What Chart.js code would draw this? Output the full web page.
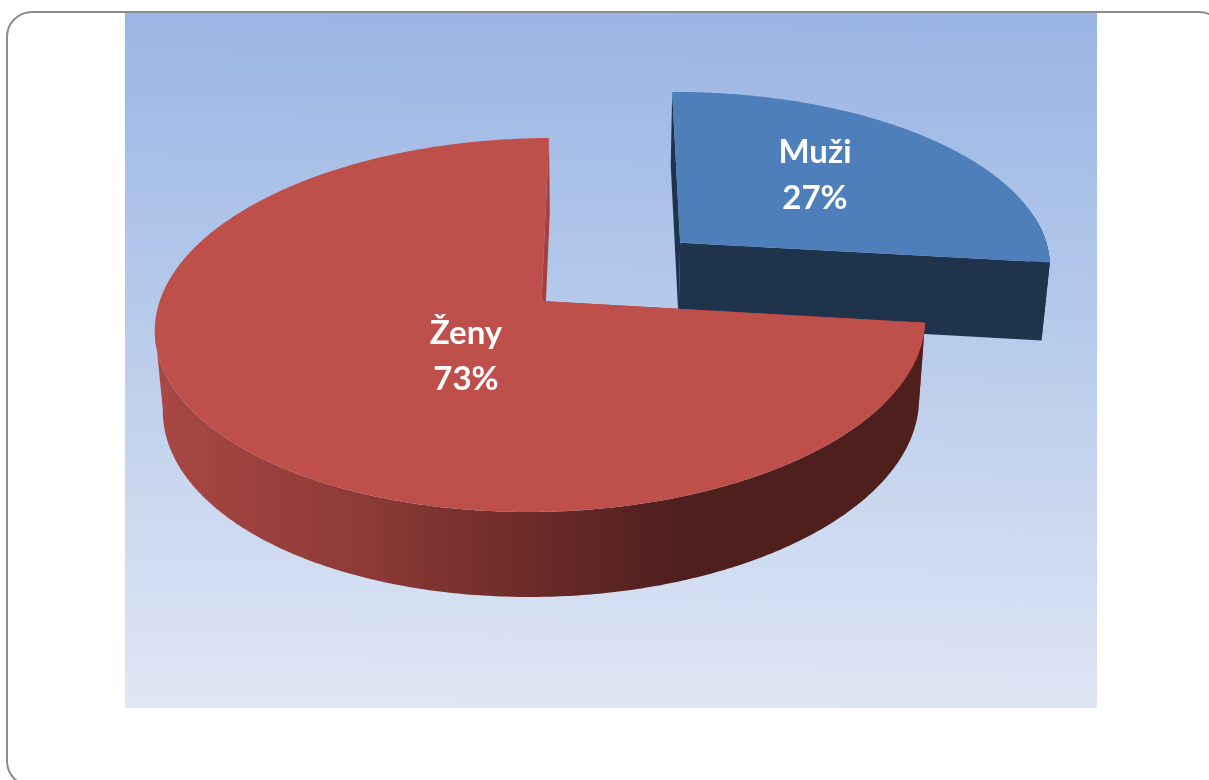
<!DOCTYPE html>
<html>
<head>
<meta charset="utf-8">
<script src="https://cdn.jsdelivr.net/npm/chart.js@4"></script>
<style>
  html, body { margin: 0; padding: 0; background: #fff; overflow: hidden; }
  #frame { position: absolute; left: 6px; top: 11px; width: 1215px; height: 772px; border: 2px solid #8c8c8c; border-radius: 26px; }
  #panel { position: absolute; left: 125px; top: 13px; width: 972px; height: 695px; background: linear-gradient(181deg, #99b5e4 0%, #b4c8ea 40%, #e0e7f5 100%); }
  #myChart { position: absolute; left: 0; top: 0; }
</style>
</head>
<body>
<div id="frame"></div>
<div id="panel"></div>
<canvas id="myChart" width="1209" height="780"></canvas>
<script>
const categories = ["Muži", "Ženy"];
const shares = [27, 73];
const percentLabels = ["27%", "73%"];
const explode = [0.495, 0];
const topColors = ["#4f7fbb", "#bf4f4b"];
const cutColors = ["#1f334c", "#a5403c"];

// tilted view of the pie plane, fitted to the reference
function project(u, v) {
  const w = 1 + 0.0012 * u - 0.1283 * v;
  return [(541.5 + 382.5 * u - 77.9 * v) / w, (301 - 1.37 * u + 145.3 * v) / w];
}

// same point on the lower face of the slab
function drop(p) {
  return [163 + 0.9818 * (p[0] - 155), p[1] + 78 + 0.0278 * (p[1] - 260)];
}

const labelSpots = [[815, 175], [466, 356]];

const pie3d = {
  id: "pie3d",
  beforeDatasetsDraw(chart) {
    const ctx = chart.ctx;
    const arcs = chart.getDatasetMeta(0).data;

    arcs.forEach((arc, i) => {
      const mid = (arc.startAngle + arc.endAngle) / 2;
      const du = Math.cos(mid) * explode[i];
      const dv = Math.sin(mid) * explode[i];
      const apex = project(du, dv);
      const rim = a => project(du + Math.cos(a), dv + Math.sin(a));

      // cut faces
      [arc.endAngle, arc.startAngle].forEach(a => {
        const p = rim(a);
        ctx.beginPath();
        ctx.moveTo(apex[0], apex[1]);
        ctx.lineTo(p[0], p[1]);
        ctx.lineTo(drop(p)[0], drop(p)[1]);
        ctx.lineTo(drop(apex)[0], drop(apex)[1]);
        ctx.closePath();
        ctx.fillStyle = cutColors[i];
        ctx.fill();
      });

      // outer wall, front part only (stops at the left tangent point)
      const from = Math.max(arc.startAngle, -0.15);
      const to = Math.min(arc.endAngle, 3.0);
      const upper = [];
      for (let a = from; a < to; a += 0.01) upper.push(rim(a));
      upper.push(rim(to));
      const grad = ctx.createLinearGradient(163, 0, 920, 0);
      if (i === 0) {
        grad.addColorStop(0, cutColors[0]);
        grad.addColorStop(1, cutColors[0]);
      } else {
        grad.addColorStop(0, "#a84743");
        grad.addColorStop(0.25, "#8f3b37");
        grad.addColorStop(0.5, "#6a2a28");
        grad.addColorStop(0.68, "#4f1f1e");
        grad.addColorStop(1, "#4f1f1e");
      }
      ctx.beginPath();
      upper.forEach((p, k) => k ? ctx.lineTo(p[0], p[1]) : ctx.moveTo(p[0], p[1]));
      upper.slice().reverse().forEach(p => ctx.lineTo(drop(p)[0], drop(p)[1]));
      ctx.closePath();
      ctx.fillStyle = grad;
      ctx.fill();

      // top face
      ctx.beginPath();
      ctx.moveTo(apex[0], apex[1]);
      for (let a = arc.startAngle; a < arc.endAngle; a += 0.01) {
        const p = rim(a);
        ctx.lineTo(p[0], p[1]);
      }
      const last = rim(arc.endAngle);
      ctx.lineTo(last[0], last[1]);
      ctx.closePath();
      ctx.fillStyle = arc.options.backgroundColor;
      ctx.fill();
    });

    ctx.fillStyle = "#fff";
    ctx.font = "bold 33px Lato";
    ctx.textAlign = "center";
    ctx.textBaseline = "alphabetic";
    arcs.forEach((arc, i) => {
      const x = labelSpots[i][0];
      const y = labelSpots[i][1];
      ctx.fillText(categories[i], x, y - 12);
      ctx.fillText(percentLabels[i], x, y + 34);
    });
    return false;
  }
};

new Chart(document.querySelector("#myChart"), {
  type: "pie",
  data: {
    labels: categories,
    datasets: [
      {
        data: shares,
        backgroundColor: topColors,
        borderWidth: 0,
      },
    ],
  },
  options: {
    responsive: false,
    animation: false,
    plugins: {
      legend: { display: false },
      tooltip: { enabled: false },
    },
  },
  plugins: [pie3d],
});
</script>
</body>
</html>
